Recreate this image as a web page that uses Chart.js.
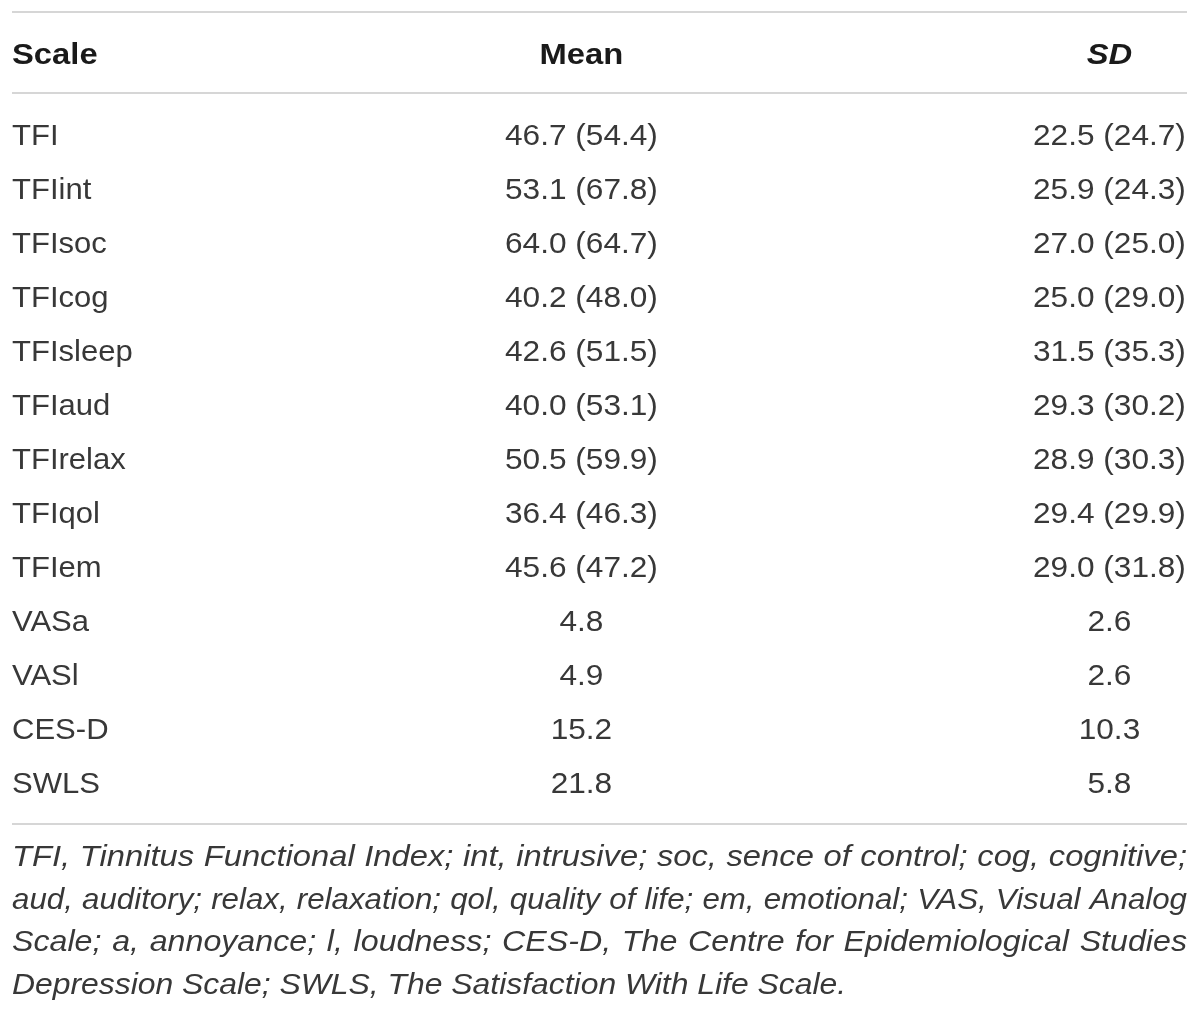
<!DOCTYPE html>
<html>
<head>
<meta charset="utf-8">
<script src="https://cdn.jsdelivr.net/npm/chart.js@4.4.0/dist/chart.umd.min.js"></script>
<style>
    html, body { margin: 0; padding: 0; background: #fff; }
    canvas { display: block; }
</style>
</head>
<body>
<canvas id="tbl" width="1200" height="1014"></canvas>
<script>
// === Data ===
const columns = ['Scale', 'Mean', 'SD'];
const scaleNames = ['TFI', 'TFIint', 'TFIsoc', 'TFIcog', 'TFIsleep', 'TFIaud', 'TFIrelax',
    'TFIqol', 'TFIem', 'VASa', 'VASl', 'CES-D', 'SWLS'];
const meanAll = [46.7, 53.1, 64.0, 40.2, 42.6, 40.0, 50.5, 36.4, 45.6, 4.8, 4.9, 15.2, 21.8];
const meanSub = [54.4, 67.8, 64.7, 48.0, 51.5, 53.1, 59.9, 46.3, 47.2, null, null, null, null];
const sdAll = [22.5, 25.9, 27.0, 25.0, 31.5, 29.3, 28.9, 29.4, 29.0, 2.6, 2.6, 10.3, 5.8];
const sdSub = [24.7, 24.3, 25.0, 29.0, 35.3, 30.2, 30.3, 29.9, 31.8, null, null, null, null];
const footnote = [
    'TFI, Tinnitus Functional Index; int, intrusive; soc, sence of control; cog, cognitive;',
    'aud, auditory; relax, relaxation; qol, quality of life; em, emotional; VAS, Visual Analog',
    'Scale; a, annoyance; l, loudness; CES-D, The Centre for Epidemiological Studies',
    'Depression Scale; SWLS, The Satisfaction With Life Scale.'
];

// === Layout / styles ===
const COL_X = [0, 0.4846, 0.934];          // column anchors on the x scale (0..1)
const COL_ALIGN = ['left', 'center', 'center'];
const FAMILY = '"Liberation Sans", Arial, sans-serif';
const TEXT = '#383838';
const HEAD = '#1a1a1a';
const RULE = '#c8c8c8';

const fmt = (a, b) => a.toFixed(1) + (b != null ? ` (${b.toFixed(1)})` : '');

function drawText(ctx, text, x, y, align, font, sx, color) {
    ctx.save();
    ctx.font = font;
    const w = ctx.measureText(text).width * sx;
    const left = align === 'left' ? x : align === 'center' ? x - w / 2 : x - w;
    ctx.translate(left, y);
    ctx.scale(sx, 1);
    ctx.textAlign = 'left';
    ctx.textBaseline = 'alphabetic';
    ctx.fillStyle = color;
    ctx.fillText(text, 0, 0);
    ctx.restore();
}

function hRule(ctx, x0, x1, y) {
    ctx.save();
    ctx.strokeStyle = RULE;
    ctx.lineWidth = 1.6;
    ctx.beginPath();
    ctx.moveTo(x0, y);
    ctx.lineTo(x1, y);
    ctx.stroke();
    ctx.restore();
}

const tablePlugin = {
    id: 'tableText',
    afterDraw(chart) {
        const { ctx, chartArea: area, scales: { x, y } } = chart;
        const regular = `29px ${FAMILY}`;
        const bold = `bold 29px ${FAMILY}`;
        const italic = `italic 29px ${FAMILY}`;

        // rules
        hRule(ctx, area.left, area.right, area.top - 94);
        hRule(ctx, area.left, area.right, area.top - 13);
        hRule(ctx, area.left, area.right, area.bottom + 16);

        // header
        const headY = area.top - 42;
        columns.forEach((c, i) => {
            const font = i === 2 ? `italic ${bold}` : bold;
            drawText(ctx, c, x.getPixelForValue(COL_X[i]), headY, COL_ALIGN[i], font, 1.13, HEAD);
        });

        // body rows
        scaleNames.forEach((name, r) => {
            const by = y.getPixelForValue(r) + 12;
            drawText(ctx, name, x.getPixelForValue(COL_X[0]), by, COL_ALIGN[0], regular, 1.07, TEXT);
            drawText(ctx, fmt(meanAll[r], meanSub[r]), x.getPixelForValue(COL_X[1]), by, COL_ALIGN[1], regular, 1.09, TEXT);
            drawText(ctx, fmt(sdAll[r], sdSub[r]), x.getPixelForValue(COL_X[2]), by, COL_ALIGN[2], regular, 1.09, TEXT);
        });

        // footnote, justified except the last line; each line squeezed to its natural fit
        const width = area.right - area.left;
        ctx.save();
        ctx.font = italic;
        const fits = footnote.map(line => width / ctx.measureText(line).width);
        ctx.restore();
        const justified = fits.slice(0, -1);
        const avgFit = justified.reduce((s, v) => s + v, 0) / justified.length;

        footnote.forEach((line, i) => {
            const by = area.bottom + 58 + i * 42.5;
            if (i === footnote.length - 1) {
                drawText(ctx, line, area.left, by, 'left', italic, avgFit * 0.986, TEXT);
                return;
            }
            const sx = fits[i] * (i === 2 ? 0.985 : 0.995);
            const words = line.split(' ');
            ctx.save();
            ctx.font = italic;
            const widths = words.map(w => ctx.measureText(w).width * sx);
            ctx.restore();
            const gap = (width - widths.reduce((s, w) => s + w, 0)) / (words.length - 1);
            let cx = area.left;
            words.forEach((w, k) => {
                drawText(ctx, w, cx, by, 'left', italic, sx, TEXT);
                cx += widths[k] + gap;
            });
        });
    }
};

new Chart(document.getElementById('tbl'), {
    type: 'scatter',
    data: {
        datasets: [
            { label: 'Mean', data: scaleNames.map(n => ({ x: COL_X[1], y: n })), pointRadius: 0 },
            { label: 'SD', data: scaleNames.map(n => ({ x: COL_X[2], y: n })), pointRadius: 0 }
        ]
    },
    options: {
        responsive: false,
        animation: false,
        events: [],
        layout: { padding: { left: 12, right: 13, top: 106, bottom: 206 } },
        plugins: { legend: { display: false }, tooltip: { enabled: false } },
        scales: {
            x: { type: 'linear', min: 0, max: 1, display: false },
            y: { type: 'category', labels: scaleNames, offset: true, display: false }
        }
    },
    plugins: [tablePlugin]
});
</script>
</body>
</html>
